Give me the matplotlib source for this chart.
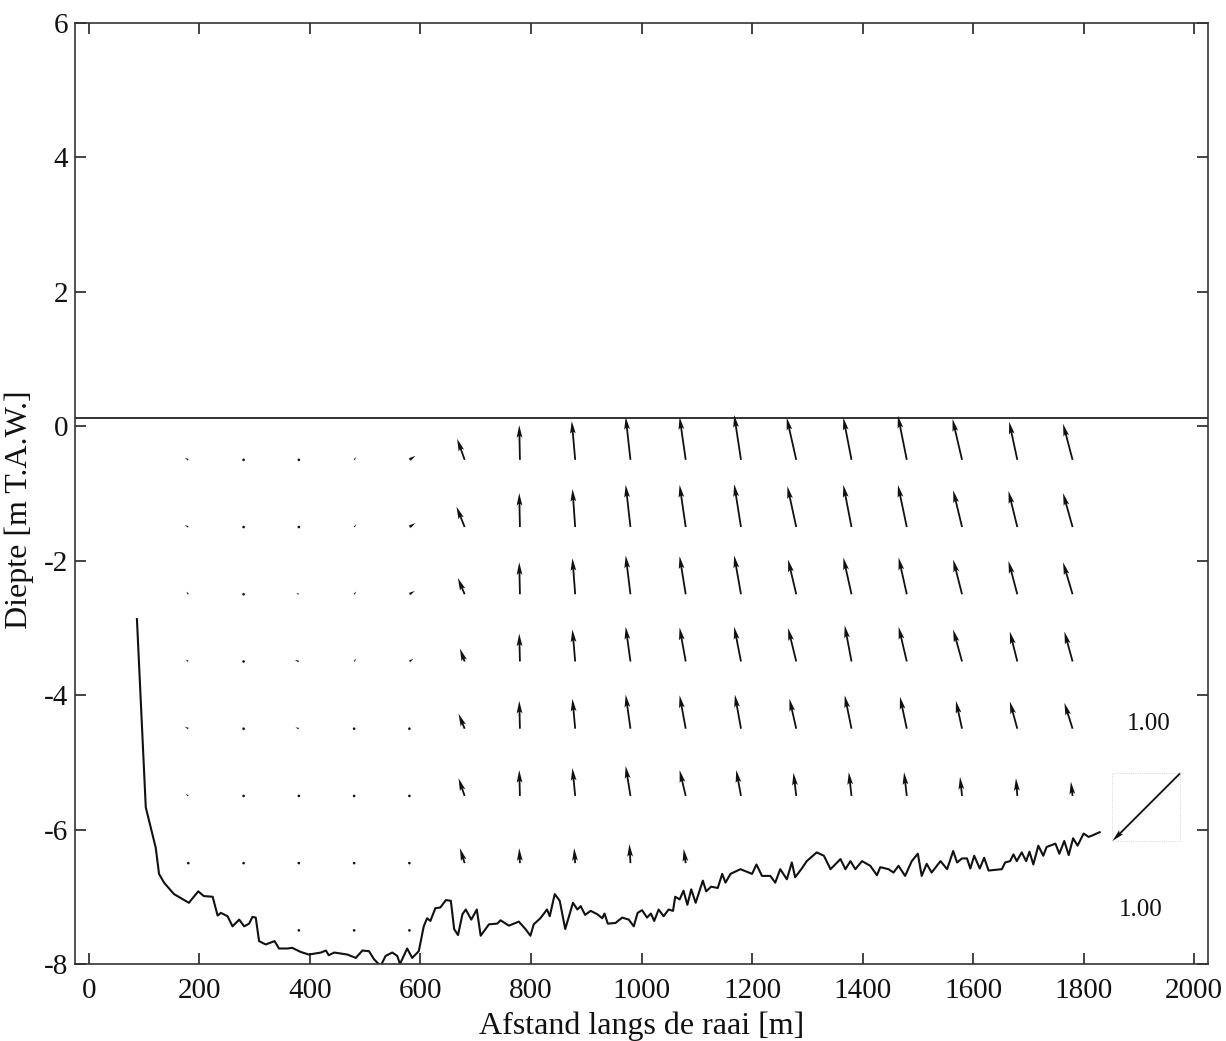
import numpy as np
import matplotlib
matplotlib.use('Agg')
import matplotlib.pyplot as plt
from matplotlib.patches import Rectangle
from matplotlib.transforms import ScaledTranslation

plt.rcParams['font.family'] = ['Liberation Serif', 'DejaVu Serif']
plt.rcParams['axes.unicode_minus'] = False

# kolommen (afstand) en rijen (diepte) van de stroomvectoren
kolommen = [180, 280, 380, 480, 580, 680, 780, 880, 980, 1080,
            1180, 1280, 1380, 1480, 1580, 1680, 1780]
rijen = [-0.5, -1.5, -2.5, -3.5, -4.5, -5.5, -6.5, -7.5]

nan = np.nan
# horizontale component per rij (boven naar onder), per kolom
U = [
    [-0.05, -0.02, -0.03, 0.03, 0.09, -0.11, -0.01, -0.05, -0.07, -0.09, -0.10, -0.14, -0.12, -0.13, -0.14, -0.12, -0.14],
    [-0.05, -0.02, -0.03, 0.03, 0.09, -0.12, -0.01, -0.04, -0.07, -0.09, -0.10, -0.13, -0.12, -0.13, -0.13, -0.13, -0.14],
    [-0.03, -0.02, -0.04, 0.03, 0.08, -0.10, -0.01, -0.04, -0.07, -0.09, -0.10, -0.12, -0.12, -0.12, -0.13, -0.13, -0.14],
    [-0.04, -0.02, -0.06, 0.03, 0.06, -0.07, -0.01, -0.04, -0.07, -0.09, -0.10, -0.12, -0.10, -0.12, -0.13, -0.11, -0.12],
    [-0.05, -0.02, -0.05, 0.02, 0.03, -0.09, -0.01, -0.04, -0.07, -0.09, -0.09, -0.10, -0.10, -0.10, -0.09, -0.11, -0.12],
    [-0.04, -0.02, -0.03, 0.02, 0.02, -0.09, -0.01, -0.04, -0.07, -0.09, -0.07, -0.04, -0.04, -0.04, -0.03, -0.02, -0.025],
    [-0.03, -0.02, -0.02, 0.02, 0.02, -0.07, -0.01, -0.015, -0.015, -0.03, nan, nan, nan, nan, nan, nan, nan],
    [nan, nan, -0.02, 0.02, 0.02, nan, nan, nan, nan, nan, nan, nan, nan, nan, nan, nan, nan],
]
# verticale component
V = [
    [0.03, 0.02, 0.02, 0.04, 0.06, 0.31, 0.51, 0.57, 0.63, 0.63, 0.66, 0.62, 0.62, 0.65, 0.60, 0.56, 0.53],
    [0.03, 0.02, 0.02, 0.04, 0.06, 0.30, 0.50, 0.56, 0.62, 0.62, 0.63, 0.60, 0.62, 0.62, 0.54, 0.53, 0.50],
    [0.04, 0.02, 0.02, 0.04, 0.05, 0.24, 0.47, 0.53, 0.57, 0.56, 0.57, 0.51, 0.54, 0.54, 0.51, 0.49, 0.47],
    [0.03, 0.02, 0.02, 0.04, 0.04, 0.19, 0.41, 0.47, 0.51, 0.50, 0.51, 0.49, 0.53, 0.51, 0.47, 0.44, 0.44],
    [0.03, 0.02, 0.02, 0.03, 0.02, 0.22, 0.41, 0.44, 0.50, 0.49, 0.50, 0.44, 0.49, 0.47, 0.41, 0.40, 0.38],
    [0.03, 0.02, 0.02, 0.02, 0.02, 0.26, 0.38, 0.41, 0.44, 0.38, 0.38, 0.34, 0.35, 0.35, 0.28, 0.26, 0.21],
    [0.02, 0.02, 0.02, 0.02, 0.02, 0.22, 0.22, 0.22, 0.28, 0.21, nan, nan, nan, nan, nan, nan, nan],
    [nan, nan, 0.02, 0.02, 0.02, nan, nan, nan, nan, nan, nan, nan, nan, nan, nan, nan, nan],
]

# bodemprofiel langs de raai
bodem_x = [87, 103, 115, 121, 127, 136, 154, 181, 198, 208, 224, 233, 239, 251, 260, 272, 281, 290,
           296, 302, 308, 320, 336, 344, 359, 368, 383, 398, 420, 429, 434, 444, 468, 483, 495, 507,
           516, 528, 537, 549, 558, 563, 576, 585, 597, 606, 612, 618, 627, 636, 646, 655, 661, 668,
           676, 682, 692, 702, 709, 724, 739, 745, 760, 778, 790, 799, 805, 817, 829, 834, 843, 852,
           862, 876, 884, 890, 898, 908, 920, 929, 933, 939, 953, 965, 977, 986, 993, 1001, 1010,
           1017, 1023, 1031, 1040, 1049, 1057, 1061, 1069, 1076, 1083, 1090, 1098, 1111, 1117, 1126,
           1138, 1146, 1152, 1161, 1179, 1200, 1208, 1218, 1233, 1242, 1251, 1263, 1272, 1278, 1290,
           1299, 1317, 1330, 1342, 1360, 1369, 1378, 1387, 1399, 1414, 1426, 1432, 1447, 1456, 1465,
           1477, 1489, 1500, 1507, 1516, 1525, 1541, 1553, 1564, 1571, 1580, 1589, 1595, 1602, 1612,
           1620, 1628, 1652, 1658, 1667, 1673, 1679, 1688, 1696, 1702, 1709, 1718, 1727, 1733, 1749,
           1756, 1765, 1773, 1781, 1789, 1800, 1809, 1818, 1829]
bodem_z = [-2.87, -5.67, -6.07, -6.27, -6.66, -6.79, -6.96, -7.09, -6.92, -6.99, -7.00, -7.28, -7.24,
           -7.29, -7.44, -7.34, -7.44, -7.40, -7.30, -7.31, -7.66, -7.71, -7.66, -7.77, -7.77, -7.76,
           -7.82, -7.86, -7.83, -7.80, -7.87, -7.83, -7.86, -7.91, -7.80, -7.81, -7.93, -8.03, -7.88,
           -7.83, -7.88, -8.00, -7.77, -7.91, -7.81, -7.44, -7.32, -7.36, -7.17, -7.16, -7.05, -7.06,
           -7.48, -7.57, -7.26, -7.19, -7.34, -7.19, -7.58, -7.41, -7.40, -7.35, -7.43, -7.37, -7.48,
           -7.58, -7.41, -7.32, -7.19, -7.29, -6.96, -7.06, -7.48, -7.09, -7.19, -7.14, -7.27, -7.21,
           -7.26, -7.32, -7.25, -7.40, -7.39, -7.31, -7.34, -7.44, -7.24, -7.20, -7.31, -7.25, -7.36,
           -7.19, -7.29, -7.19, -7.21, -7.00, -7.04, -6.91, -7.12, -6.89, -7.09, -6.76, -6.92, -6.85,
           -6.87, -6.66, -6.79, -6.66, -6.59, -6.66, -6.52, -6.69, -6.69, -6.79, -6.59, -6.74, -6.49,
           -6.71, -6.58, -6.47, -6.34, -6.39, -6.59, -6.44, -6.59, -6.47, -6.59, -6.47, -6.54, -6.68,
           -6.56, -6.59, -6.64, -6.54, -6.69, -6.47, -6.36, -6.69, -6.51, -6.64, -6.47, -6.59, -6.32,
           -6.49, -6.43, -6.43, -6.58, -6.39, -6.58, -6.42, -6.61, -6.59, -6.49, -6.47, -6.37, -6.47,
           -6.34, -6.47, -6.33, -6.52, -6.24, -6.39, -6.26, -6.21, -6.36, -6.17, -6.38, -6.13, -6.24,
           -6.06, -6.11, -6.08, -6.04]

waterstand = 0.12

# schaalvector
schaal_x, schaal_z = 1975, -5.16
schaal_u, schaal_v = -1.0, -1.0
schaal_tekst = '1.00'

fig = plt.figure(figsize=(12.26, 10.41), dpi=100)
ax = fig.add_axes([0.0612, 0.074, 0.9241, 0.904])

X, Z = np.meshgrid(kolommen, rijen)
px_per_eenheid = 68.0
q_kw = dict(angles='uv', scale_units='inches', scale=100.0 / px_per_eenheid,
            width=1.8, units='dots', headwidth=3.2, headlength=7, headaxislength=6,
            minlength=1.6, color='#111111', pivot='tail')
ax.quiver(X, Z, np.array(U), np.array(V), **q_kw)

ax.plot(bodem_x, bodem_z, color='#111111', lw=1.5)
ax.axhline(waterstand, color='#111111', lw=1.2)

# schaal
ax.quiver([schaal_x], [schaal_z], [schaal_u], [schaal_v], **q_kw)
kader = Rectangle((0, 0), schaal_u * px_per_eenheid / 100.0, schaal_v * px_per_eenheid / 100.0,
                  transform=fig.dpi_scale_trans + ScaledTranslation(schaal_x, schaal_z, ax.transData),
                  fill=False, ec='#c8c8c8', lw=0.6, ls=':')
ax.add_patch(kader)
ax.text(1917, -4.43, schaal_tekst, ha='center', va='center', fontsize=18, color='#111111')
ax.text(1903, -7.20, schaal_tekst, ha='center', va='center', fontsize=18, color='#111111')

ax.set_xlim(-25, 2025)
ax.set_ylim(-8, 6)
ax.set_xticks(np.arange(0, 2001, 200))
ax.set_yticks(np.arange(-8, 7, 2))
ax.tick_params(direction='in', top=True, right=True, length=8, width=1.1,
               labelsize=21, colors='#111111')
ax.tick_params(axis='x', pad=10)
ax.tick_params(axis='y', pad=5)
for s in ax.spines.values():
    s.set_linewidth(1.2)
    s.set_color('#333333')

ax.set_xlabel('Afstand langs de raai [m]', fontsize=23, color='#111111')
ax.set_ylabel('Diepte [m T.A.W.]', fontsize=23, color='#111111')
ax.xaxis.set_label_coords(0.5, -0.051)
ax.yaxis.set_label_coords(-0.036, 0.483)

fig.savefig('out.png', dpi=100)
